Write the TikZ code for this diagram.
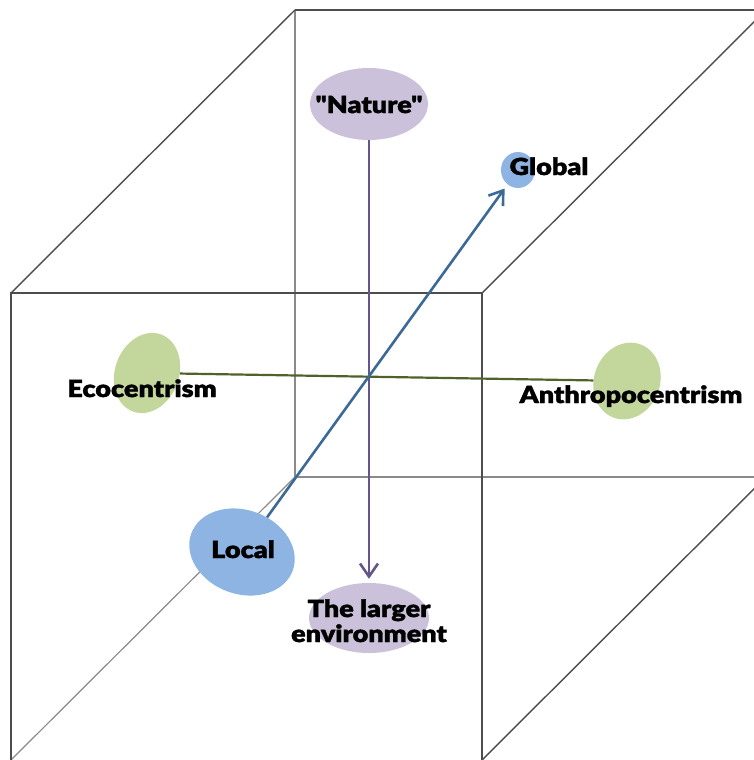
\documentclass[tikz,border=0pt]{standalone}
\usepackage{fontspec}
\IfFontExistsTF{Lato Black}
  {\newfontfamily\heavy[FakeBold=1.5,FakeStretch=1.15]{Lato Black}}
  {\newfontfamily\heavy[FakeBold=4,FakeStretch=1.08]{Liberation Sans Bold}}
\usetikzlibrary{arrows.meta,shapes.geometric}
\definecolor{cubegray}{HTML}{4D4D4D}
\definecolor{cubelight}{HTML}{8A8A8A}
\definecolor{lav}{HTML}{CCC1DA}
\definecolor{bluefill}{HTML}{8DB4E2}
\definecolor{greenfill}{HTML}{C3D69B}
\definecolor{purpleline}{HTML}{64558A}
\definecolor{blueline}{HTML}{3C6A96}
\definecolor{greenline}{HTML}{4F6228}
\begin{document}
\begin{tikzpicture}[x=1pt,y=-1pt,
  edge/.style={draw=cubegray,line width=1.4pt},
  edgelight/.style={draw=cubelight,line width=1.2pt},
  blob/.style={ellipse,inner sep=0pt,draw=none},
  lbl/.style={font=\heavy\fontsize{23.5}{25}\selectfont,inner sep=0pt,anchor=base,text=black},
  barb/.style={-{Straight Barb[length=13pt,width=18pt]}},
]
\useasboundingbox (0,0) rectangle (754,760);
\clip (0,0) rectangle (754,760);
% cube
\coordinate (F1) at (11,293);
\coordinate (F2) at (482,293);
\coordinate (F3) at (482,760);
\coordinate (F4) at (11,760);
\coordinate (B1) at (295,10);
\coordinate (B2) at (766,10);
\coordinate (B3) at (766,477);
\coordinate (B4) at (295,477);
\draw[edgelight] (B1) -- (B4) -- (B3);
\draw[edgelight] (F4) -- (B4);
\draw[edge] (B1) -- (B2);
\draw[edge] (F1) -- (B1);
\draw[edge] (F2) -- (B2);
\draw[edge] (F3) -- (B3);
\draw[edge] (F4) -- (F1) -- (F2) -- (F3);
% ellipses
\node[blob,fill=lav,minimum width=118,minimum height=72] (nature) at (369,104) {};
\node[blob,fill=lav,minimum width=120,minimum height=70] (larger) at (369,618) {};
\node[blob,fill=bluefill,minimum width=34,minimum height=36] (global) at (518,170) {};
\node[blob,fill=bluefill,minimum width=108,minimum height=84,rotate=-20] (local) at (242,552) {};
\node[blob,fill=greenfill,minimum width=64,minimum height=82,rotate=-20] (eco) at (147,373) {};
\node[blob,fill=greenfill,minimum width=66,minimum height=78,rotate=-20] (anthro) at (627,381) {};
% connectors
\draw[greenline,line width=2.2pt] (eco) -- (anthro);
\draw[purpleline,line width=2.6pt,barb,shorten >=4pt] (nature) -- (larger);
\draw[blueline,line width=2.6pt,barb,shorten >=5pt] (local) -- (global);
% labels
\node[lbl] (tnature) at (369,113) {"Nature"};
\node[lbl] (tglobal) at (549,175) {Global};
\node[lbl] (teco) at (142,397) {Ecocentrism};
\node[lbl] (tanthro) at (631,403) {Anthropocentrism};
\node[lbl] (tlocal) at (243,558) {Local};
\node[lbl] (tlarger1) at (369,617) {The larger};
\node[lbl] (tlarger2) at (369,642) {environment};
\end{tikzpicture}
\end{document}
